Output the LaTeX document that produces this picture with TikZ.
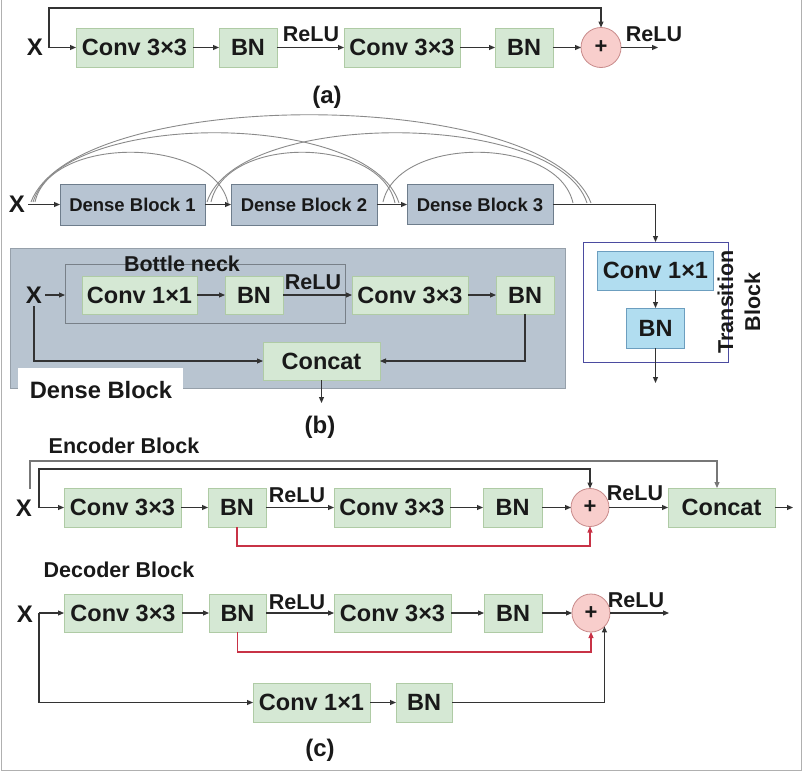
\documentclass[tikz,border=0pt]{standalone}
\usepackage{fontspec}
\setmainfont{Liberation Sans}
\usetikzlibrary{arrows.meta}
\definecolor{gfill}{HTML}{D5E8D4}
\definecolor{gdraw}{HTML}{AFCBA5}
\definecolor{dfill}{HTML}{B7C4D2}
\definecolor{ddraw}{HTML}{6E7D8C}
\definecolor{cfill}{HTML}{B8C4D0}
\definecolor{cdraw}{HTML}{96A0AA}
\definecolor{tfill}{HTML}{B1DDF0}
\definecolor{tdraw}{HTML}{6C9EBF}
\definecolor{tout}{HTML}{4B4BA0}
\definecolor{pfill}{HTML}{F8CECC}
\definecolor{pdraw}{HTML}{C88A8A}
\definecolor{lcol}{HTML}{333333}
\definecolor{lcolb}{HTML}{777777}
\definecolor{rcol}{HTML}{C83246}
\definecolor{acol}{HTML}{8A8A8A}
\definecolor{framec}{HTML}{B0B0B0}
\begin{document}
\begin{tikzpicture}[x=1pt,y=-1pt,
  every node/.style={inner sep=0pt, outer sep=0pt, text=black!90},
  gbox/.style={draw=gdraw, fill=gfill, line width=0.8pt, font=\bfseries\fontsize{23.5}{26}\selectfont},
  dbox/.style={draw=ddraw, fill=dfill, line width=0.8pt, font=\bfseries\fontsize{18.5}{21}\selectfont},
  tbox/.style={draw=tdraw, fill=tfill, line width=0.8pt, font=\bfseries\fontsize{23.5}{26}\selectfont},
  plus/.style={circle, draw=pdraw, fill=pfill, minimum size=40pt, line width=0.8pt, font=\bfseries\fontsize{22}{24}\selectfont},
  lbl/.style={font=\bfseries\fontsize{21.5}{27}\selectfont},
  biglbl/.style={font=\bfseries\fontsize{23.7}{26}\selectfont},
  xlbl/.style={inner sep=3pt, font=\bfseries\fontsize{24}{26}\selectfont},
  arr/.style={draw=lcol, line width=1.1pt, -{Triangle[length=6pt,width=5pt]}},
  arrb/.style={draw=lcolb, line width=1.1pt, -{Triangle[length=6pt,width=5pt]}},
  redarr/.style={draw=rcol, line width=1.1pt, -{Triangle[length=6pt,width=5pt]}},
  arcl/.style={draw=acol, line width=0.9pt},
]
\useasboundingbox (0,0) rectangle (803,771);
\draw[framec, line width=1pt] (1,0) -- (1,770) -- (801.5,770) -- (801.5,0);

% ---------------- (a)
\node[xlbl] (aX) at (35,47.5) {X};
\coordinate (aJ) at (49,47.5);
\node[gbox, minimum width=117, minimum height=39] (aC1) at (134.5,47.5) {Conv 3×3};
\node[gbox, minimum width=58, minimum height=39] (aB1) at (248,47.5) {BN};
\node[gbox, minimum width=116, minimum height=39] (aC2) at (402,47.5) {Conv 3×3};
\node[gbox, minimum width=58, minimum height=39] (aB2) at (524,47.5) {BN};
\node[plus] (aP) at (601,47.5) {+};
\coordinate (aO) at (658,47.5);
\node[lbl] (aR1) at (311,34) {ReLU};
\node[lbl] (aR2) at (654,34) {ReLU};
\node[xlbl] (aL) at (327,97) {(a)};
\draw[arr] (aJ) -- (aC1);
\draw[arr] (aJ) -- ++(0,-39.5) -| (aP);
\draw[arr] (aC1) -- (aB1);
\draw[arr] (aB1) -- (aC2);
\draw[arr] (aC2) -- (aB2);
\draw[arr] (aB2) -- (aP);
\draw[arr] (aP) -- (aO);

% ---------------- (b) top row
\node[xlbl] (bX) at (17,204.5) {X};
\node[dbox, minimum width=145, minimum height=41] (bD1) at (132.5,204.5) {Dense Block 1};
\node[dbox, minimum width=146, minimum height=41] (bD2) at (304,204.5) {Dense Block 2};
\node[dbox, minimum width=146, minimum height=40] (bD3) at (480,204.5) {Dense Block 3};
\draw[arr] (bX) -- (bD1);
\draw[arr] (bD1) -- (bD2);
\draw[arr] (bD2) -- (bD3);

\coordinate (s1) at (35,202);
\coordinate (s2) at (33,202);
\coordinate (s3) at (31,202);
\coordinate (s4) at (211,202);
\coordinate (s5) at (207,202);
\coordinate (s6) at (383,202);
\coordinate (e1) at (228,203);
\coordinate (e2) at (399,203);
\coordinate (e3) at (591,203);
\coordinate (e4) at (395,203);
\coordinate (e5) at (587,203);
\coordinate (e6) at (573,203);
\draw[arcl] (s1) .. controls +(15,-67) and +(-15,-67) .. (e1);
\draw[arcl] (s2) .. controls +(29,-93) and +(-29,-93) .. (e2);
\draw[arcl] (s3) .. controls +(45,-117) and +(-45,-117) .. (e3);
\draw[arcl] (s4) .. controls +(15,-67) and +(-15,-67) .. (e4);
\draw[arcl] (s5) .. controls +(30,-93) and +(-30,-93) .. (e5);
\draw[arcl] (s6) .. controls +(15,-67) and +(-15,-67) .. (e6);

% ---------------- Dense block container
\node[draw=cdraw, fill=cfill, line width=1pt, minimum width=555, minimum height=140] (bC) at (287.5,318) {};
\node[fill=white, minimum width=165, minimum height=22, anchor=north west] (bWL) at (18,367.5) {};
\node[biglbl] (bDL) at (101,390) {Dense Block};
\node[draw=cdraw!80!black, line width=1pt, minimum width=280, minimum height=59] (bBN) at (205,293.5) {};
\node[lbl] (bBNL) at (182,264) {Bottle neck};
\node[xlbl] (bX2) at (34,295) {X};
\node[gbox, minimum width=115, minimum height=38] (bC1) at (139.5,295) {Conv 1×1};
\node[gbox, minimum width=58, minimum height=38] (bB1) at (254,295) {BN};
\node[lbl] (bR) at (313,282) {ReLU};
\node[gbox, minimum width=116, minimum height=38] (bC2) at (410,295) {Conv 3×3};
\node[gbox, minimum width=58, minimum height=38] (bB2) at (525,295) {BN};
\node[gbox, minimum width=117, minimum height=38] (bCat) at (321.5,361) {Concat};
\coordinate (bOut) at (321.5,403);
\node[xlbl] (bL) at (320,427) {(b)};
\draw[arr] (bX2) -- (bX2 -| bBN.west);
\draw[arr] (bC1) -- (bB1);
\draw[arr] (bB1) -- (bC2);
\draw[arr] (bC2) -- (bB2);
\draw[arr] (bX2) |- (bCat);
\draw[arr] (bB2) |- (bCat);
\draw[arr] (bCat) -- (bOut);

% ---------------- Transition block
\node[draw=tout, fill=white, line width=1pt, minimum width=145, minimum height=120] (tOut) at (655.5,302) {};
\node[tbox, minimum width=116, minimum height=39] (tC) at (655.5,270.5) {Conv 1×1};
\node[tbox, minimum width=58, minimum height=40] (tB) at (655.5,328) {BN};
\coordinate (tEnd) at (655.5,383);
\node[lbl, rotate=90, align=center] (tL) at (739,302) {Transition\\Block};
\draw[arr] (bD3) -| (tOut);
\draw[arr] (tC) -- (tB);
\draw[arr] (tB) -- (tEnd);

% ---------------- (c) Encoder
\node[lbl] (eT) at (124,446) {Encoder Block};
\node[xlbl] (eX) at (24,508) {X};
\coordinate (eJ) at (39,507.5);
\coordinate (eO) at (30,489);
\node[gbox, minimum width=117, minimum height=39] (eC1) at (122.5,507.5) {Conv 3×3};
\node[gbox, minimum width=58, minimum height=39] (eB1) at (237,507.5) {BN};
\node[lbl] (eR1) at (297,495) {ReLU};
\node[gbox, minimum width=116, minimum height=39] (eC2) at (392,507.5) {Conv 3×3};
\node[gbox, minimum width=59, minimum height=39] (eB2) at (512.5,507.5) {BN};
\node[plus, minimum size=38] (eP) at (590,507.5) {+};
\node[lbl] (eR2) at (635,493) {ReLU};
\node[gbox, minimum width=107, minimum height=39] (eCat) at (721.5,507.5) {Concat};
\coordinate (eOut) at (793,507.5);
\draw[arr] (eJ) -- (eC1);
\draw[arr] (eJ) -- ++(0,-38.5) -| (eP);
\draw[arrb] (eO) -- ++(0,-28) -| ([xshift=-4.5pt]eCat.north);
\draw[arr] (eC1) -- (eB1);
\draw[arr] (eB1) -- (eC2);
\draw[arr] (eC2) -- (eB2);
\draw[arr] (eB2) -- (eP);
\draw[arr] (eP) -- (eCat);
\draw[arr] (eCat) -- (eOut);
\draw[redarr] (eB1.south) -- ++(0,19) -| (eP);

% ---------------- (c) Decoder
\node[lbl] (dT) at (119,570) {Decoder Block};
\node[xlbl] (dX) at (25,614) {X};
\coordinate (dJ) at (39,613);
\node[gbox, minimum width=118, minimum height=38] (dC1) at (123,613) {Conv 3×3};
\node[gbox, minimum width=57, minimum height=38] (dB1) at (237.5,613) {BN};
\node[lbl] (dR1) at (297,602) {ReLU};
\node[gbox, minimum width=117, minimum height=38] (dC2) at (392.5,613) {Conv 3×3};
\node[gbox, minimum width=58, minimum height=38] (dB2) at (513,613) {BN};
\node[plus, minimum size=38] (dP) at (591,613) {+};
\node[lbl] (dR2) at (636,600) {ReLU};
\coordinate (dOut) at (669,613);
\node[gbox, minimum width=117, minimum height=39] (dC3) at (311.5,702.5) {Conv 1×1};
\node[gbox, minimum width=56, minimum height=39] (dB3) at (424,702.5) {BN};
\node[xlbl] (cL) at (320,750) {(c)};
\draw[arr] (dJ) -- (dC1);
\draw[arr] (dC1) -- (dB1);
\draw[arr] (dB1) -- (dC2);
\draw[arr] (dC2) -- (dB2);
\draw[arr] (dB2) -- (dP);
\draw[arr] (dP) -- (dOut);
\draw[arr] (dJ) |- (dC3);
\draw[arr] (dC3) -- (dB3);
\draw[arr] (dB3) -| (dP.south east);
\draw[redarr] (dB1.south) -- ++(0,20) -| (dP);
\end{tikzpicture}
\end{document}
